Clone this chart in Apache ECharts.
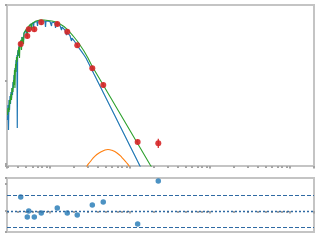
<!DOCTYPE html>
<html><head><meta charset="utf-8">
<script src="https://cdn.jsdelivr.net/npm/echarts@6/dist/echarts.min.js"></script>
<style>html,body{margin:0;padding:0;background:#fff}#c{width:320px;height:240px}</style>
</head><body><div id="c"></div>
<script>
// All values are log10 of the quantities (decades)
const blueLogX = [-0.531,-0.525,-0.519,-0.513,-0.506,-0.500,-0.494,-0.488,-0.481,-0.475,-0.469,-0.463,-0.456,-0.450,-0.444,-0.438,-0.431,-0.425,-0.419,-0.413,-0.409,-0.405,-0.400,-0.394,-0.388,-0.381,-0.375,-0.363,-0.356,-0.350,-0.338,-0.331,-0.325,-0.313,-0.300,-0.294,-0.288,-0.275,-0.263,-0.256,-0.250,-0.238,-0.225,-0.213,-0.206,-0.200,-0.188,-0.175,-0.163,-0.156,-0.150,-0.125,-0.113,-0.106,-0.100,-0.075,-0.063,-0.056,-0.050,-0.025,0.000,0.013,0.019,0.025,0.050,0.063,0.069,0.075,0.100,0.125,0.138,0.144,0.150,0.175,0.188,0.200,0.206,0.213,0.238,0.250,0.263,0.269,0.275,0.300,0.313,0.325,0.338,0.350,0.363,0.375,0.400,0.425,0.438,0.450,0.475,0.500,0.525,0.550,0.575,0.600,0.625,0.650,0.675,0.700,0.725,0.750,0.813,0.875,0.938,1.000,1.063,1.125,1.150];
const blueLogY = [0.530,0.711,0.410,0.771,0.651,0.819,0.723,0.867,0.795,0.916,0.831,0.988,0.916,1.072,0.952,1.157,1.108,1.253,1.181,1.313,0.434,1.325,1.373,1.301,1.422,1.373,1.470,1.494,1.410,1.530,1.554,1.494,1.578,1.602,1.614,1.542,1.639,1.651,1.663,1.590,1.675,1.687,1.687,1.699,1.639,1.705,1.711,1.711,1.717,1.663,1.723,1.723,1.723,1.675,1.723,1.729,1.723,1.651,1.723,1.723,1.717,1.717,1.663,1.711,1.705,1.699,1.639,1.693,1.681,1.669,1.663,1.614,1.651,1.633,1.614,1.602,1.554,1.590,1.566,1.548,1.530,1.482,1.518,1.488,1.470,1.452,1.434,1.416,1.398,1.380,1.349,1.313,1.295,1.277,1.229,1.181,1.133,1.084,1.036,0.988,0.940,0.892,0.843,0.795,0.747,0.699,0.578,0.458,0.337,0.217,0.096,-0.024,-0.072];

const greenLogX = [-0.531,-0.525,-0.513,-0.506,-0.500,-0.488,-0.481,-0.475,-0.463,-0.456,-0.450,-0.444,-0.438,-0.431,-0.425,-0.419,-0.413,-0.400,-0.388,-0.381,-0.375,-0.363,-0.356,-0.350,-0.338,-0.331,-0.325,-0.300,-0.288,-0.281,-0.275,-0.250,-0.238,-0.231,-0.225,-0.200,-0.175,-0.150,-0.125,-0.075,-0.050,-0.025,0.000,0.025,0.050,0.075,0.100,0.125,0.150,0.175,0.200,0.225,0.250,0.275,0.300,0.325,0.350,0.375,0.400,0.425,0.450,0.475,0.500,0.525,0.625,0.750,0.875,1.000,1.125,1.250,1.288];
const greenLogY = [0.590,0.675,0.627,0.771,0.723,0.843,0.771,0.916,0.867,1.012,0.952,1.133,0.916,1.205,1.108,1.289,1.229,1.349,1.410,1.277,1.458,1.494,1.373,1.530,1.554,1.446,1.578,1.620,1.639,1.566,1.651,1.675,1.687,1.614,1.693,1.711,1.723,1.729,1.735,1.735,1.735,1.729,1.729,1.723,1.717,1.711,1.699,1.687,1.675,1.657,1.639,1.614,1.590,1.560,1.530,1.500,1.470,1.434,1.398,1.361,1.319,1.277,1.229,1.181,1.018,0.813,0.608,0.404,0.199,-0.006,-0.066];

const orangeLogX = [0.438,0.463,0.500,0.563,0.625,0.688,0.725,0.775,0.838,0.900,0.950,0.988,1.013];
const orangeLogY = [-0.096,-0.024,0.024,0.096,0.139,0.169,0.175,0.165,0.133,0.078,0.024,-0.024,-0.096];

const obsLogX = [-0.366,-0.284,-0.266,-0.196,-0.109,0.091,0.216,0.341,0.529,0.666,1.096,1.354];
const obsLogY = [1.446,1.542,1.623,1.623,1.707,1.687,1.594,1.430,1.153,0.952,0.265,0.249];
const obsErr  = [0.03,0.03,0.03,0.03,0.03,0.03,0.03,0.03,0.03,0.03,0.03,0.055];

const residuals = [0.52,-0.22,0.00,-0.22,-0.07,0.11,-0.07,-0.15,0.22,0.33,-0.48,1.11];
const residBand = 0.59;

const p = v => Math.pow(10, v);
const pairs = (lx, ly) => lx.map((x, i) => [p(x), p(ly[i])]);

const gray = '#c4c4c4';
const tickGray = '#a4a4a4';
function xAx(gi) {
  return {
    type: 'log', gridIndex: gi, min: 0.29, max: 2000, logBase: 10,
    axisLine: {show: false},
    axisTick: {show: true, length: 2.5, lineStyle: {color: tickGray, width: 2}},
    minorTick: {show: true, splitNumber: 9, length: 2, lineStyle: {color: tickGray, width: 2}},
    axisLabel: {show: false}, splitLine: {show: false}, minorSplitLine: {show: false}
  };
}

const chart = echarts.init(document.getElementById('c'), null, {renderer: 'canvas'});
chart.setOption({
  animation: false,
  backgroundColor: '#ffffff',
  grid: [
    {left: 7, top: 5, width: 307, height: 161, show: true, borderColor: gray, borderWidth: 2, backgroundColor: 'transparent'},
    {left: 7, top: 178, width: 307, height: 54, show: true, borderColor: gray, borderWidth: 2, backgroundColor: 'transparent'}
  ],
  xAxis: [xAx(0), xAx(1)],
  yAxis: [
    {type: 'log', gridIndex: 0, min: 0.946, max: 82.4, logBase: 10,
     axisLine: {show: false}, axisLabel: {show: false}, splitLine: {show: false},
     axisTick: {show: true, length: 2, lineStyle: {color: tickGray, width: 2}}},
    {type: 'value', gridIndex: 1, min: -0.778, max: 1.222, splitNumber: 2,
     axisLine: {show: false}, axisLabel: {show: false}, splitLine: {show: false},
     axisTick: {show: true, length: 2, lineStyle: {color: tickGray, width: 2}}}
  ],
  series: [
    {type: 'line', xAxisIndex: 0, yAxisIndex: 0, data: pairs(blueLogX, blueLogY), showSymbol: false,
     lineStyle: {color: '#1f77b4', width: 1.2}, clip: true, silent: true},
    {type: 'line', xAxisIndex: 0, yAxisIndex: 0, data: pairs(greenLogX, greenLogY), showSymbol: false,
     lineStyle: {color: '#2ca02c', width: 1.1}, clip: true, silent: true},
    {type: 'line', xAxisIndex: 0, yAxisIndex: 0, data: pairs(orangeLogX, orangeLogY), showSymbol: false, smooth: true,
     lineStyle: {color: '#ff7f0e', width: 1.1}, clip: true, silent: true},
    {type: 'custom', xAxisIndex: 0, yAxisIndex: 0,
     data: obsLogX.map((x, i) => [p(x), p(obsLogY[i]), p(obsLogY[i] - obsErr[i]), p(obsLogY[i] + obsErr[i])]),
     encode: {x: 0, y: 1},
     renderItem: function (params, api) {
       const a = api.coord([api.value(0), api.value(2)]);
       const b = api.coord([api.value(0), api.value(3)]);
       return {type: 'line', shape: {x1: a[0], y1: a[1], x2: b[0], y2: b[1]}, style: {stroke: '#d62728', lineWidth: 1.2}};
     }, silent: true, z: 3},
    {type: 'scatter', xAxisIndex: 0, yAxisIndex: 0, data: pairs(obsLogX, obsLogY), symbolSize: 6,
     itemStyle: {color: '#d62728', opacity: 0.9}, silent: true, z: 4},
    {type: 'scatter', xAxisIndex: 1, yAxisIndex: 1, data: obsLogX.map((x, i) => [p(x), residuals[i]]), symbolSize: 5.5,
     itemStyle: {color: '#1f77b4'}, silent: true, z: 4,
     markLine: {silent: true, symbol: 'none', label: {show: false}, animation: false,
       data: [
         {yAxis: residBand, lineStyle: {color: '#2f6aa3', type: [4, 2], width: 1}},
         {yAxis: -residBand, lineStyle: {color: '#2f6aa3', type: [4, 2], width: 1}},
         {yAxis: 0, lineStyle: {color: '#2f6aa3', type: [2, 2], width: 1.3}}
       ]}}
  ]
});
</script></body></html>
